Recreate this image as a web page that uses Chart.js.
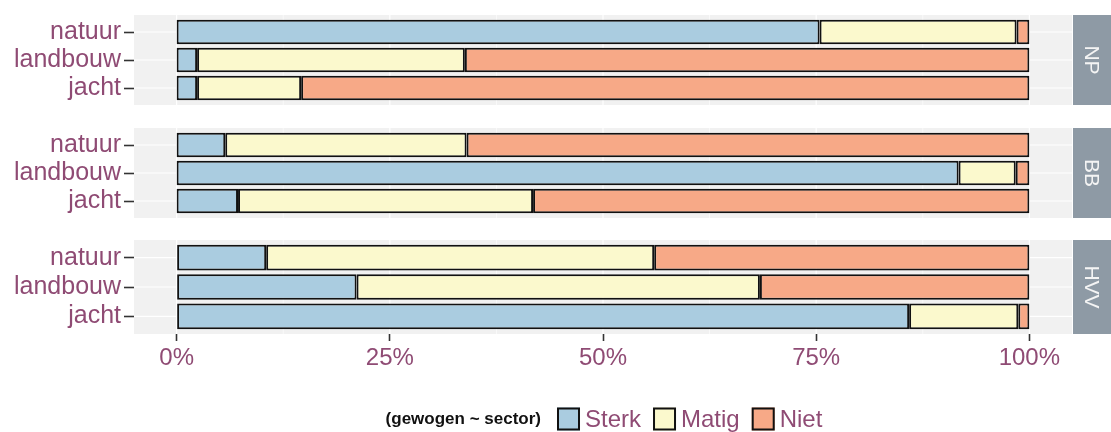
<!DOCTYPE html>
<html>
<head>
<meta charset="utf-8">
<script src="https://cdn.jsdelivr.net/npm/chart.js@4.4.1/dist/chart.umd.min.js"></script>
<style>
    html, body { margin: 0; padding: 0; background: #fff; }
    #wrap { position: relative; width: 1111px; height: 432px; overflow: hidden; }
    #wrap canvas { position: absolute; left: 0; }
</style>
</head>
<body>
<div id="wrap">
    <canvas id="panel0" width="1111" height="120" style="top:0px"></canvas>
    <canvas id="panel1" width="1111" height="120" style="top:112.5px"></canvas>
    <canvas id="panel2" width="1111" height="207" style="top:225px"></canvas>
</div>
<script>
// ---- data (percent of respondents) ----
const sectors = ['natuur', 'landbouw', 'jacht'];
const regions = ['NP', 'BB', 'HVV'];
const levels = ['Sterk', 'Matig', 'Niet'];
// one row per region, one value per sector
const sterk = [[75.4, 2.4, 2.4], [5.7, 91.7, 7.2], [10.5, 21.1, 85.9]];
const matig = [[23.1, 31.4, 12.2], [28.3, 6.7, 34.6], [45.5, 47.3, 12.8]];
const niet  = [[1.5, 66.2, 85.4], [66.0, 1.6, 58.2], [44.0, 31.6, 1.3]];
const xTicks = [0, 25, 50, 75, 100];
const legendTitle = '(gewogen ~ sector)';

const levelColors = ['#AACCE0', '#FBF9CD', '#F7A987'];
const purple = '#8F4B74';
const panelBg = '#F1F1F1';
const stripBg = '#8E9AA5';
const FONT = "'Liberation Sans', Arial, sans-serif";

Chart.defaults.font.family = FONT;

// grey panel, white grid lines and the facet strip on the right
const facetPlugin = {
    id: 'facet',
    beforeDatasetsDraw(chart, args, opts) {
        const { ctx, chartArea: a, scales } = chart;
        const top = a.top - 3, bottom = a.bottom + 3;
        ctx.save();
        ctx.fillStyle = panelBg;
        ctx.fillRect(a.left, top, a.right - a.left, bottom - top);
        ctx.strokeStyle = '#ffffff';
        // minor x lines
        ctx.lineWidth = 0.6;
        for (let i = 0; i < xTicks.length - 1; i++) {
            const px = scales.x.getPixelForValue((xTicks[i] + xTicks[i + 1]) / 2);
            ctx.beginPath(); ctx.moveTo(px, top); ctx.lineTo(px, bottom); ctx.stroke();
        }
        // major x lines
        ctx.lineWidth = 1.2;
        xTicks.forEach(v => {
            const px = scales.x.getPixelForValue(v);
            ctx.beginPath(); ctx.moveTo(px, top); ctx.lineTo(px, bottom); ctx.stroke();
        });
        sectors.forEach((s, i) => {
            const py = scales.y.getPixelForValue(i);
            ctx.beginPath(); ctx.moveTo(a.left, py); ctx.lineTo(a.right, py); ctx.stroke();
        });
        ctx.restore();
    },
    afterDraw(chart, args, opts) {
        const { ctx, chartArea: a } = chart;
        const top = a.top - 3, bottom = a.bottom + 3;
        const x0 = a.right + 1;
        ctx.save();
        ctx.fillStyle = stripBg;
        ctx.fillRect(x0, top, chart.width - x0, bottom - top);
        ctx.translate(x0 + (chart.width - x0) / 2, (top + bottom) / 2);
        ctx.rotate(Math.PI / 2);
        ctx.fillStyle = '#F4F4F4';
        ctx.font = '21px ' + FONT;
        ctx.textAlign = 'center';
        ctx.textBaseline = 'middle';
        ctx.fillText(opts.label, 0, 1);
        ctx.restore();
    }
};

// legend row under the bottom panel
const legendRow = {
    id: 'legendRow',
    afterDraw(chart, args, opts) {
        if (!opts.show) return;
        const { ctx } = chart;
        const y = 194;
        const box = 23, boxGap = 5, itemGap = 12, titleGap = 16;
        ctx.save();
        ctx.font = 'bold 17px ' + FONT;
        const titleW = ctx.measureText(legendTitle).width;
        ctx.font = '24px ' + FONT;
        const itemW = levels.map(l => box + boxGap + ctx.measureText(l).width);
        const total = titleW + titleGap + itemW.reduce((s, w) => s + w, 0) + itemGap * (levels.length - 1);
        let x = 604 - total / 2;

        ctx.textBaseline = 'middle';
        ctx.fillStyle = '#111';
        ctx.font = 'bold 17px ' + FONT;
        ctx.fillText(legendTitle, x, y);
        x += titleW + titleGap;

        ctx.font = '24px ' + FONT;
        chart.data.datasets.forEach((ds, i) => {
            ctx.fillStyle = ds.backgroundColor;
            ctx.fillRect(x, y - box / 2, box, box);
            ctx.strokeStyle = '#111';
            ctx.lineWidth = 2;
            ctx.strokeRect(x + 1, y - box / 2 + 1, box - 2, box - 2);
            ctx.fillStyle = purple;
            ctx.fillText(ds.label, x + box + boxGap, y + 1);
            x += itemW[i] + itemGap;
        });
        ctx.restore();
    }
};

function makePanel(r) {
    const isLast = r === regions.length - 1;
    const series = [sterk, matig, niet];
    const canvas = document.getElementById('panel' + r);

    return new Chart(canvas, {
        type: 'bar',
        data: {
            labels: sectors,
            datasets: levels.map((lev, i) => ({
                label: lev,
                data: series[i][r],
                backgroundColor: levelColors[i],
                borderColor: '#111111',
                borderWidth: 2,
                borderSkipped: false,
                barPercentage: 0.9,
                categoryPercentage: 0.97
            }))
        },
        options: {
            indexAxis: 'y',
            responsive: false,
            animation: false,
            layout: {
                padding: { top: 13, right: 39, bottom: isLast ? 61 : 14, left: 0 }
            },
            scales: {
                x: {
                    type: 'linear',
                    stacked: true,
                    min: -5,
                    max: 105,
                    display: isLast,
                    afterBuildTicks: s => { s.ticks = xTicks.map(v => ({ value: v })); },
                    afterFit: s => { s.height = isLast ? 40 : 0; },
                    border: { display: false },
                    grid: { drawOnChartArea: false, tickLength: 10, tickColor: '#333', tickWidth: 1.6 },
                    ticks: {
                        color: purple,
                        font: { size: 24 },
                        padding: 3,
                        maxRotation: 0,
                        callback: v => v + '%'
                    }
                },
                y: {
                    stacked: true,
                    afterFit: s => { s.width = 134; },
                    border: { display: false },
                    grid: { offset: false, drawOnChartArea: false, tickLength: 10, tickColor: '#333', tickWidth: 1.6 },
                    ticks: { color: purple, font: { size: 25 }, padding: 3, autoSkip: false }
                }
            },
            plugins: {
                legend: { display: false },
                tooltip: { enabled: false },
                facet: { label: regions[r] },
                legendRow: { show: isLast }
            }
        },
        plugins: [facetPlugin, legendRow]
    });
}

regions.forEach((name, r) => makePanel(r));
</script>
</body>
</html>
